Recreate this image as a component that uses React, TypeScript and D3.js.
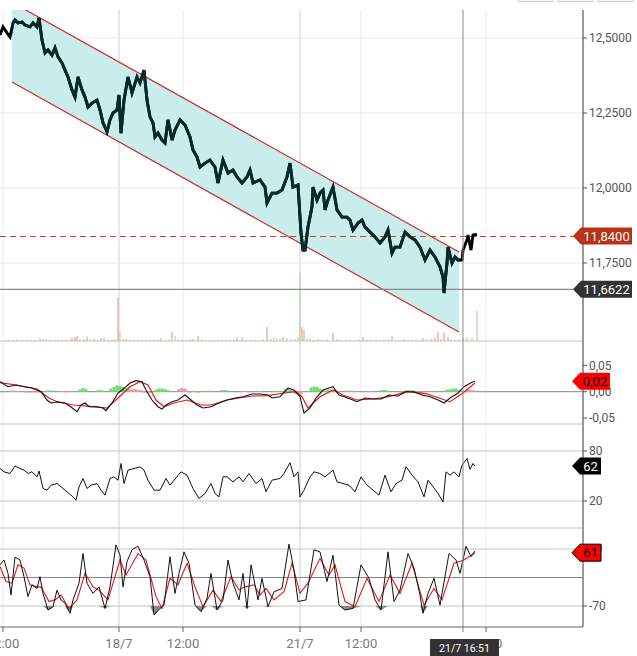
import React from 'react';
import * as d3 from 'd3';

// ---------- DATA ----------
const priceIdx = [0,3,7,10,13,15,18,22,25,30,33,37,39,42,45,48,52,55,58,62,65,68,72,75,78,82,85,88,92,97,100,103,107,110,113,117,119,121,124,128,132,137,140,144,147,150,153,155,158,162,165,168,172,175,180,185,190,193,197,200,205,210,215,218,223,228,233,237,242,247,250,253,260,265,267,272,277,282,287,290,293,298,301,303,305,308,312,313,317,320,323,325,328,333,337,342,347,350,353,358,362,365,370,375,380,385,388,392,395,400,405,410,415,420,425,430,435,440,443,444,447,448,452,455,458,462,463,467,468,471,473,477];
const priceVal = [12.510,12.537,12.517,12.503,12.550,12.560,12.550,12.553,12.543,12.537,12.550,12.537,12.567,12.493,12.450,12.460,12.443,12.467,12.437,12.417,12.393,12.370,12.327,12.303,12.370,12.327,12.303,12.270,12.283,12.293,12.260,12.217,12.187,12.227,12.250,12.260,12.310,12.183,12.293,12.370,12.317,12.370,12.350,12.393,12.293,12.237,12.217,12.170,12.183,12.160,12.150,12.227,12.160,12.193,12.227,12.210,12.170,12.127,12.103,12.070,12.083,12.093,12.070,12.017,12.093,12.050,12.060,12.037,12.017,12.037,12.060,12.017,12.027,12.003,11.950,11.983,11.983,11.993,12.037,12.083,12.003,12.010,11.850,11.793,11.793,11.870,11.937,12.003,11.960,11.983,11.993,11.927,11.960,12.003,11.927,11.903,11.903,11.893,11.860,11.883,11.893,11.870,11.853,11.837,11.817,11.837,11.860,11.783,11.803,11.803,11.853,11.837,11.827,11.803,11.760,11.793,11.770,11.737,11.703,11.650,11.750,11.803,11.750,11.770,11.760,11.760,11.793,11.827,11.843,11.793,11.843,11.845];

const chanIdx = [12, 459];
const chanUpper = [12.619, 11.787];
const chanLower = [12.353, 11.52];

const lastPrice = 11.84;
const refPrice = 11.6622;

const volIdx = [5,9,13,17,22,27,31,35,40,43,46,50,55,58,62,66,70,72,75,77,80,84,87,90,94,98,101,104,108,112,115,118,120,123,126,130,134,138,142,146,150,154,158,161,165,169,172,175,178,182,186,190,193,198,202,206,210,214,218,222,226,230,234,237,242,246,250,255,259,263,267,271,274,277,280,283,287,291,295,298,300,302,304,307,310,313,318,322,327,333,337,341,346,350,355,359,363,367,371,376,380,384,388,392,396,400,404,408,412,416,420,423,427,431,435,438,441,444,448,451,455,459,463,467,472,477];
const volVal = [1,1,1,1.5,1,1,1,1,2.5,2,2,1,1,1.5,1,1,1.5,3.5,4,5,1.5,2,4.5,1.5,2,1,3,3.5,1,1,1.5,43,9,2,2,1.5,1,1.5,1,1,1,1.5,1.5,3,1,1.5,9,5,1,1,1,1.5,2,5,1.5,1,1,1,1,1,1,1,1.5,3.5,3.5,1,1,1.5,1,1.5,14,2,4,3,2.5,4,3,1.5,2,4,68,14,11,3,2,1,2,1.5,1.5,8,2,1,1,1.5,1,1.5,4,1,1,1.5,1,1,1.5,5,1,1,1.5,1,1,1.5,1,3,1.5,2,3,9,2,9,4,2,1,1.5,2,4,3,30];
const volUp = [0,0,1,0,0,0,0,0,0,0,0,0,0,1,0,0,0,0,0,0,0,0,0,0,0,0,0,0,0,0,0,0,1,0,0,1,0,1,0,0,0,0,0,0,1,0,0,1,0,0,0,0,0,0,0,0,0,1,0,0,0,0,0,0,0,0,1,1,0,0,0,1,1,1,1,0,1,0,1,1,1,0,0,1,0,0,0,1,0,0,0,0,0,1,0,0,0,0,0,0,1,0,0,0,0,1,0,0,0,0,1,0,0,0,0,0,0,0,0,1,0,1,0,1,1,1];

const macdIdx = [0,8,16,24,32,41,47,51,57,65,71,77,81,85,89,97,103,106,112,118,122,126,130,136,142,146,152,158,162,166,172,178,185,191,197,203,211,219,227,235,243,252,260,268,272,280,288,294,300,304,310,316,323,329,333,339,345,353,357,365,373,381,389,398,406,414,422,430,438,444,450,458,464,471,475];
const macdVal = [0.019,0.0095,0.0127,0.0095,0.007,0,-0.0158,-0.0215,-0.0196,-0.0215,-0.029,-0.038,-0.0253,-0.0215,-0.0285,-0.0285,-0.031,-0.036,-0.0215,-0.0025,0.0032,0.0095,0.0165,0.021,0.019,0.0032,-0.0158,-0.0285,-0.033,-0.0253,-0.019,-0.0158,-0.0063,-0.0158,-0.0253,-0.031,-0.0285,-0.0215,-0.0158,-0.012,-0.0095,-0.0044,-0.0044,-0.0063,-0.012,-0.0095,0.007,0.0032,-0.0095,-0.0405,-0.031,-0.012,0.0032,0.007,0.0095,-0.0063,-0.010,-0.0158,-0.019,-0.012,-0.0139,-0.0139,-0.0063,-0.0082,0,0,-0.0063,-0.0095,-0.0158,-0.0215,-0.012,-0.0025,0.0095,0.0171,0.0198];
const macdSigIdx = [0,16,37,49,57,73,93,107,118,130,140,148,156,164,174,187,201,211,227,252,268,284,296,302,308,320,333,343,357,373,389,406,426,442,450,462,475];
const macdSigVal = [0.0171,0.0127,0.0051,-0.012,-0.019,-0.0253,-0.0285,-0.031,-0.012,0.0095,0.019,0.0127,-0.0158,-0.0285,-0.0215,-0.0158,-0.0253,-0.0253,-0.0158,-0.0082,-0.0076,-0.0025,0,-0.0095,-0.031,-0.0095,0.0032,-0.0063,-0.0158,-0.0139,-0.0095,0,-0.0038,-0.0139,-0.019,-0.0038,0.0165];
const histIdx = [1,4,11,14,17,26,30,34,38,47,50,53,62,66,70,80,83,86,98,101,111,114,117,120,123,126,129,132,135,138,141,144,147,150,156,159,162,165,168,179,182,185,190,194,198,205,209,222,225,228,244,248,260,274,285,288,291,295,298,301,311,314,317,320,324,328,332,336,346,350,354,358,370,382,385,388,407,410,413,419,422,426,437,447,450,453,456,459,467,470,473];
const histVal = [-0.001,-0.001,0.002,0.002,0.0015,-0.002,-0.002,-0.0015,-0.002,0.002,0.0025,0.002,0.001,-0.001,0.001,0.004,0.007,0.005,0.003,0.003,0.006,0.009,0.012,0.011,0.009,0.007,0.006,0.005,0.005,0.004,0.003,-0.002,-0.003,-0.002,0.004,0.006,0.006,0.005,0.003,0.005,0.007,0.006,-0.002,0.002,-0.002,0.001,0.002,0.003,0.003,0.002,0.001,-0.001,0.001,0.0015,0.005,0.006,0.004,-0.004,-0.006,-0.004,0.008,0.01,0.009,0.006,0.004,0.004,0.003,0.002,0.002,0.002,0.002,0.001,0.001,0.003,0.003,0.002,0.003,0.003,0.002,-0.002,-0.002,-0.001,0.001,0.004,0.005,0.006,0.006,0.004,0.004,0.004,0.003];
const histUp = [0,0,0,0,0,0,0,0,0,1,1,1,0,0,0,1,1,1,1,1,1,1,1,1,1,1,0,0,0,0,0,0,0,0,1,1,1,1,1,0,0,0,0,1,0,1,1,1,1,1,0,0,0,1,1,1,1,0,0,0,1,1,1,1,1,1,1,1,0,0,0,0,0,1,1,1,1,1,1,0,0,0,1,1,1,1,1,1,0,0,0];

const rsiIdx = [0,4,10,15,20,24,28,32,37,39,43,47,51,57,63,69,73,76,79,83,87,91,97,101,105,110,114,118,121,124,128,134,140,144,148,154,160,166,170,181,187,193,199,205,211,215,219,223,227,233,239,243,249,256,262,266,272,280,284,290,294,298,300,304,310,314,320,325,333,337,343,349,355,361,367,373,379,385,391,396,402,406,412,418,424,428,432,438,443,446,450,454,459,462,467,470,473,475];
const rsiVal = [59,55,53,62,59,57,53,55,49,56,35,33,39,41,35,29,25,21,37,47,35,39,41,33,27,47,49,45,65,41,57,59,61,57,45,33,33,47,39,55,51,35,23,29,41,29,25,49,49,43,49,43,53,41,47,31,45,47,53,66,49,55,25,33,49,55,53,49,57,43,41,39,31,49,39,33,27,51,31,41,45,61,51,43,25,45,39,29,19,55,51,55,49,63,71,58,65,62];

const cciIdx = [0,4,8,11,15,20,24,28,32,37,40,43,48,53,57,61,65,70,73,79,83,87,93,99,105,110,116,120,123,127,132,138,144,150,154,160,164,170,175,179,184,189,195,201,207,211,217,223,228,233,239,243,247,251,258,262,268,274,282,289,294,298,306,314,320,327,333,339,345,353,361,369,375,381,388,394,400,408,414,420,423,428,434,440,449,456,460,466,471,475];
const cciVal = [31,43,10,-43,50,43,2,-47,-18,-27,2,-39,-80,-72,-31,-55,-63,-88,-55,-14,59,-14,-39,-23,-76,-23,80,55,-23,39,68,77,43,2,-92,-76,-68,51,-39,10,63,35,-68,-84,-51,10,-80,-55,43,-14,-55,10,-76,31,-55,-2,-72,-35,-27,82,18,-59,-55,68,63,-10,55,-68,-80,-76,31,-2,-55,-80,63,-59,-31,59,23,-43,-88,-39,-2,-68,59,43,10,77,51,65];
const cciSigIdx = [0,6,12,18,24,30,37,41,49,55,61,69,77,85,93,99,108,120,126,138,146,156,162,170,178,187,195,203,213,221,231,239,245,254,260,266,274,284,292,300,308,320,329,335,345,355,367,379,390,400,412,424,434,442,454,464,475];
const cciSigVal = [27,-10,-14,31,23,-18,-23,-23,-59,-55,-43,-76,-55,10,-23,-31,-55,43,6,59,43,-47,-76,-2,-18,35,-23,-72,-31,-59,2,-31,-23,-18,-43,-27,-55,-35,35,-39,-14,47,6,31,-59,-72,-2,-59,6,-39,35,-68,-27,-55,35,43,61];

const timeTickIdx = [3, 119, 183, 300, 361, 486];
const timeTickLabels = ['12:00', '18/7', '12:00', '21/7', '12:00', '18:00'];
const timeTickMajor = [false, true, false, true, false, false];
const crossIdx = 463;
const crossLabel = '21/7 16:51';

const priceTicks = [12.5, 12.25, 12.0, 11.75];
const macdTicks = [0.05, 0, -0.05];
const rsiTicks = [80, 20];
const cciTicks = [70, -70];

// ---------- LAYOUT ----------
const W = 637, H = 656;
const R = 583;
const TOP = 10, MAIN_B = 341, MACD_B = 424, RSI_B = 528, BOT = 627;
const FONT = 'Roboto, "Noto Sans", sans-serif';

const x = d3.scaleLinear().domain([0, 583]).range([0, R]);
const yMain = d3.scaleLinear().domain([11.49, 12.59333]).range([MAIN_B, TOP]);
const yVol = d3.scaleLinear().domain([0, 100]).range([MAIN_B, MAIN_B - 100]);
const yMacd = d3.scaleLinear().domain([-0.0614, 0.0964]).range([MACD_B, MAIN_B]);
const yRsi = d3.scaleLinear().domain([-12.4, 112.4]).range([RSI_B, MACD_B]);
const yCci = d3.scaleLinear().domain([-121.6, 121.6]).range([BOT, RSI_B]);

const fmt4 = (v: number) => v.toFixed(4).replace('.', ',');
const fmt2 = (v: number) => v.toFixed(2).replace('.', ',');

function lineOf(idx: number[], val: number[], ys: d3.ScaleLinear<number, number>) {
  const pts = idx.map((d, i) => [d, val[i]] as [number, number]);
  return d3.line<[number, number]>().x(d => x(d[0])).y(d => ys(d[1]))(pts) || '';
}

function Tag({ y, x0, x1, fill, text, color, stroke }: { y: number; x0: number; x1: number; fill: string; text: string; color: string; stroke?: string }) {
  const h = 17;
  const pts = [[x0, y], [x0 + 8, y - h / 2], [x1, y - h / 2], [x1, y + h / 2], [x0 + 8, y + h / 2]];
  return (
    <g>
      <polygon points={pts.map(p => p.join(',')).join(' ')} fill={fill} stroke={stroke || 'none'} strokeWidth={1} />
      <text x={(x0 + 8 + x1) / 2} y={y} dy="0.36em" textAnchor="middle" fill={color} fontSize={13} fontFamily={FONT}>{text}</text>
    </g>
  );
}

export default function App() {
  const chanPts = [
    [chanIdx[0], chanUpper[0]], [chanIdx[1], chanUpper[1]], [chanIdx[1], chanLower[1]], [chanIdx[0], chanLower[0]],
  ];
  const pricePath = lineOf(priceIdx, priceVal, yMain);
  const cciArea = d3.area<[number, number]>()
    .x(d => x(d[0]))
    .y0(() => yCci(-70))
    .y1(d => yCci(Math.min(d[1], -70)))(cciIdx.map((d, i) => [d, cciVal[i]] as [number, number])) || '';

  const axisText = { fontSize: 12, fontFamily: FONT, fill: '#555' } as const;

  return (
    <svg width={W} height={H} style={{ position: 'absolute', left: 0, top: 0, background: '#fff' }}>
      <defs>
        <clipPath id="mainClip"><rect x={0} y={TOP} width={R} height={MAIN_B - TOP} /></clipPath>
        <clipPath id="chanClip"><rect x={x(chanIdx[0])} y={TOP} width={x(chanIdx[1]) - x(chanIdx[0])} height={MAIN_B - TOP} /></clipPath>
        <clipPath id="plotClip"><rect x={0} y={TOP} width={R} height={BOT - TOP} /></clipPath>
      </defs>
      <rect x={0} y={0} width={W} height={H} fill="#fff" />

      {/* top buttons */}
      {[518, 558, 598].map((bx, i) => (
        <rect key={i} x={bx} y={-12} width={35} height={13.5} fill="#fff" stroke="#ccc" strokeWidth={1} />
      ))}

      {/* vertical gridlines */}
      {timeTickIdx.map((t, i) => (
        <line key={i} x1={x(t)} x2={x(t)} y1={TOP} y2={BOT} stroke={timeTickMajor[i] ? '#cfcfcf' : '#ebebeb'} strokeWidth={1} />
      ))}

      {/* main horizontal gridlines */}
      {priceTicks.map((p, i) => (
        <line key={i} x1={0} x2={R} y1={yMain(p)} y2={yMain(p)} stroke="#e9e9e9" strokeWidth={1} />
      ))}

      {/* panel separators */}
      {[MAIN_B, MACD_B, RSI_B].map((py, i) => (
        <line key={i} x1={0} x2={R} y1={py} y2={py} stroke="#c4c4c4" strokeWidth={1} />
      ))}

      <g clipPath="url(#mainClip)">
        {/* channel */}
        <polygon points={chanPts.map(p => `${x(p[0])},${yMain(p[1])}`).join(' ')} fill="#c9ecec" />
        <line x1={x(chanIdx[0])} x2={x(chanIdx[1])} y1={yMain(chanUpper[0])} y2={yMain(chanUpper[1])} stroke="#cc2a2a" strokeWidth={1.2} />
        <line x1={x(chanIdx[0])} x2={x(chanIdx[1])} y1={yMain(chanLower[0])} y2={yMain(chanLower[1])} stroke="#cc2a2a" strokeWidth={1.2} />

        {/* volume */}
        {volIdx.map((v, i) => (
          <rect key={i} x={x(v) - 0.6} y={yVol(volVal[i])} width={1.2} height={yVol(0) - yVol(volVal[i])}
            fill={volUp[i] ? '#a9d9a3' : '#e8a597'} />
        ))}

        {/* ref line */}
        <line x1={0} x2={R} y1={yMain(refPrice)} y2={yMain(refPrice)} stroke="#8a8a8a" strokeWidth={1.2} />
        {/* last price dashed */}
        <line x1={0} x2={R} y1={yMain(lastPrice) + 0.5} y2={yMain(lastPrice) + 0.5} stroke="#cf4426" strokeWidth={1.2} strokeDasharray="6,4" />

        {/* price */}
        <path d={pricePath} fill="none" stroke="#000" strokeWidth={2.9} strokeLinejoin="miter" />
        <path d={pricePath} fill="none" stroke="#062a2a" strokeWidth={2.9} clipPath="url(#chanClip)" />
      </g>

      {/* MACD panel */}
      <line x1={0} x2={R} y1={yMacd(0)} y2={yMacd(0)} stroke="#858585" strokeWidth={1} />
      <g clipPath="url(#plotClip)">
        {histIdx.map((h, i) => {
          const y0 = yMacd(0), y1 = yMacd(histVal[i]);
          return <rect key={i} x={x(h) - 1.5} y={Math.min(y0, y1)} width={3} height={Math.abs(y1 - y0)} fill={histUp[i] ? '#6fdc6f' : '#f49a9a'} />;
        })}
        <path d={lineOf(macdSigIdx, macdSigVal, yMacd)} fill="none" stroke="#e41a1a" strokeWidth={1.2} />
        <path d={lineOf(macdIdx, macdVal, yMacd)} fill="none" stroke="#111" strokeWidth={1.1} />
      </g>

      {/* RSI panel */}
      {rsiTicks.map((t, i) => (
        <line key={i} x1={0} x2={R} y1={yRsi(t)} y2={yRsi(t)} stroke="#c4c4c4" strokeWidth={1} />
      ))}
      <path d={lineOf(rsiIdx, rsiVal, yRsi)} fill="none" stroke="#111" strokeWidth={1} />

      {/* CCI panel */}
      {cciTicks.map((t, i) => (
        <line key={i} x1={0} x2={R} y1={yCci(t)} y2={yCci(t)} stroke="#c4c4c4" strokeWidth={1} />
      ))}
      <line x1={0} x2={R} y1={yCci(0)} y2={yCci(0)} stroke="#858585" strokeWidth={1} />
      <path d={cciArea} fill="#8c8c8c" />
      <path d={lineOf(cciSigIdx, cciSigVal, yCci)} fill="none" stroke="#e41a1a" strokeWidth={1.1} />
      <path d={lineOf(cciIdx, cciVal, yCci)} fill="none" stroke="#111" strokeWidth={1} />

      {/* crosshair */}
      <line x1={x(crossIdx)} x2={x(crossIdx)} y1={TOP} y2={BOT + 5} stroke="#8a8a8a" strokeWidth={1} />

      {/* bottom axis */}
      <line x1={0} x2={R} y1={BOT} y2={BOT} stroke="#666" strokeWidth={1} />
      {timeTickIdx.map((t, i) => (
        <g key={i}>
          <line x1={x(t)} x2={x(t)} y1={BOT} y2={BOT + 5} stroke="#666" strokeWidth={1} />
          <text x={x(t)} y={648} textAnchor="middle" fontSize={13} fontFamily={FONT} fill="#777">{timeTickLabels[i]}</text>
        </g>
      ))}
      <rect x={x(crossIdx) - 33} y={639} width={69} height={20} fill="#333" />
      <text x={x(crossIdx) + 1.5} y={652} textAnchor="middle" fontSize={10.5} fontFamily={FONT} fill="#fff">{crossLabel}</text>

      {/* right axis */}
      <line x1={R} x2={R} y1={TOP} y2={BOT} stroke="#555" strokeWidth={1.2} />
      {priceTicks.map((p, i) => (
        <g key={i}>
          <line x1={R} x2={R + 4} y1={yMain(p)} y2={yMain(p)} stroke="#555" />
          <text x={589} y={yMain(p)} dy="0.36em" {...axisText}>{fmt4(p)}</text>
        </g>
      ))}
      {macdTicks.map((p, i) => (
        <g key={i}>
          <line x1={R} x2={R + 4} y1={yMacd(p)} y2={yMacd(p)} stroke="#555" />
          <text x={589} y={yMacd(p)} dy="0.36em" {...axisText}>{fmt2(p)}</text>
        </g>
      ))}
      {rsiTicks.map((p, i) => (
        <g key={i}>
          <line x1={R} x2={R + 4} y1={yRsi(p)} y2={yRsi(p)} stroke="#555" />
          <text x={589} y={yRsi(p)} dy="0.36em" {...axisText}>{p}</text>
        </g>
      ))}
      {cciTicks.map((p, i) => (
        <g key={i}>
          <line x1={R} x2={R + 4} y1={yCci(p)} y2={yCci(p)} stroke="#555" />
          <text x={589} y={yCci(p)} dy="0.36em" {...axisText}>{p}</text>
        </g>
      ))}

      {/* tags */}
      <Tag y={yMain(lastPrice)} x0={573} x1={632} fill="#b8321a" text={fmt4(lastPrice)} color="#fff" />
      <Tag y={yMain(refPrice)} x0={573} x1={632} fill="#333" text={fmt4(refPrice)} color="#fff" />
      <Tag y={yMacd(macdVal[macdVal.length - 1])} x0={572} x1={610} fill="#ff0000" text={fmt2(macdVal[macdVal.length - 1])} color="#000" />
      <Tag y={yRsi(rsiVal[rsiVal.length - 1])} x0={572} x1={601} fill="#000" text={String(rsiVal[rsiVal.length - 1])} color="#fff" />
      <Tag y={yCci(cciSigVal[cciSigVal.length - 1])} x0={572} x1={601} fill="#ff0000" text={String(cciSigVal[cciSigVal.length - 1])} color="#000" stroke="#000" />
    </svg>
  );
}
